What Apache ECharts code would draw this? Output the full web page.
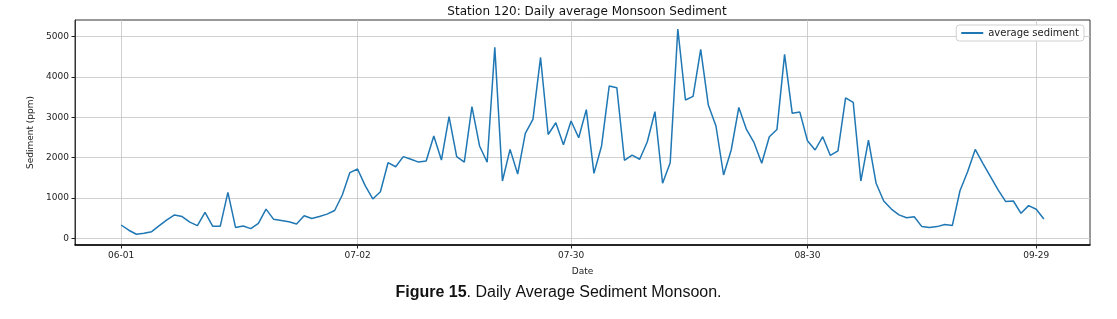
<!DOCTYPE html>
<html>
<head>
<meta charset="utf-8">
<script src="https://cdn.jsdelivr.net/npm/echarts@6/dist/echarts.min.js"></script>
<style>
  html, body { margin: 0; padding: 0; background: #fff; }
  #chart { width: 1117px; height: 319px; }
</style>
</head>
<body>
<div id="chart"></div>
<script>
// daily dates, 06-01 .. 09-30
const dates = [
  '06-01','06-02','06-03','06-04','06-05','06-06','06-07','06-08','06-09','06-10',
  '06-11','06-12','06-13','06-14','06-15','06-16','06-17','06-18','06-19','06-20',
  '06-21','06-22','06-23','06-24','06-25','06-26','06-27','06-28','06-29','06-30',
  '07-01','07-02','07-03','07-04','07-05','07-06','07-07','07-08','07-09','07-10',
  '07-11','07-12','07-13','07-14','07-15','07-16','07-17','07-18','07-19','07-20',
  '07-21','07-22','07-23','07-24','07-25','07-26','07-27','07-28','07-29','07-30',
  '07-31','08-01','08-02','08-03','08-04','08-05','08-06','08-07','08-08','08-09',
  '08-10','08-11','08-12','08-13','08-14','08-15','08-16','08-17','08-18','08-19',
  '08-20','08-21','08-22','08-23','08-24','08-25','08-26','08-27','08-28','08-29',
  '08-30','08-31','09-01','09-02','09-03','09-04','09-05','09-06','09-07','09-08',
  '09-09','09-10','09-11','09-12','09-13','09-14','09-15','09-16','09-17','09-18',
  '09-19','09-20','09-21','09-22','09-23','09-24','09-25','09-26','09-27','09-28',
  '09-29','09-30'
];

// average sediment (ppm), one value per day
const sediment = [
  330, 200, 100, 125, 165, 315, 455, 580, 540, 400,
  315, 645, 300, 300, 1140, 270, 305, 240, 370, 725,
  470, 440, 410, 355, 560, 490, 540, 600, 690, 1075,
  1630, 1720, 1305, 975, 1155, 1875, 1775, 2025, 1960, 1890,
  1915, 2535, 1940, 3015, 2025, 1890, 3265, 2290, 1885, 4735,
  1420, 2205, 1595, 2600, 2950, 4485, 2575, 2865, 2320, 2910,
  2495, 3190, 1610, 2290, 3775, 3735, 1935, 2065, 1960, 2395,
  3140, 1365, 1875, 5190, 3430, 3520, 4685, 3305, 2785, 1570,
  2190, 3245, 2700, 2370, 1860, 2520, 2700, 4560, 3100, 3130,
  2420, 2190, 2520, 2055, 2170, 3485, 3370, 1420, 2435, 1365,
  925, 725, 580, 510, 535, 290, 270, 290, 340, 320,
  1180, 1650, 2205, 1860, 1530, 1200, 910, 925, 620, 810,
  720, 480
];

const xTickLabels = ['06-01', '07-02', '07-30', '08-30', '09-29'];
const yTickLabels = [0, 1000, 2000, 3000, 4000, 5000];

const xTicks = xTickLabels.map(d => dates.indexOf(d));
const points = sediment.map((v, i) => [i, v]);

let myChart = echarts.init(document.getElementById('chart'));

let option = {
    animation: false,
    title: {
        text: 'Station 120: Daily average Monsoon Sediment',
        left: 582,
        top: 1,
        textAlign: 'center',
        textStyle: {
            fontFamily: 'DejaVu Sans',
            fontSize: 12,
            fontWeight: 'normal',
            color: '#111'
        }
    },
    legend: {
        right: 33,
        top: 25,
        padding: [3, 5, 3, 5],
        icon: 'rect',
        itemWidth: 22,
        itemHeight: 2,
        itemGap: 6,
        borderColor: '#d0d0d0',
        borderWidth: 1,
        borderRadius: 3,
        backgroundColor: '#fff',
        textStyle: {
            fontFamily: 'DejaVu Sans',
            fontSize: 10,
            color: '#222'
        },
        data: ['average sediment']
    },
    grid: {
        left: 75,
        right: 27,
        top: 20,
        bottom: 74,
        show: true,
        borderColor: '#333',
        borderWidth: 1
    },
    xAxis: {
        type: 'value',
        min: -6.05,
        max: 127.05,
        name: 'Date',
        nameLocation: 'middle',
        nameGap: 22,
        nameTextStyle: {
            fontFamily: 'DejaVu Sans',
            fontSize: 9,
            color: '#222'
        },
        axisLine: {
            onZero: false,
            lineStyle: { color: '#000', width: 1.5 }
        },
        axisTick: {
            customValues: xTicks,
            length: 3.5,
            lineStyle: { color: '#222' }
        },
        axisLabel: {
            customValues: xTicks,
            margin: 6,
            fontFamily: 'DejaVu Sans',
            fontSize: 9,
            color: '#222',
            formatter: v => dates[v]
        },
        splitLine: {
            show: true,
            lineStyle: { color: '#c4c4c4', width: 0.8 }
        }
    },
    yAxis: {
        type: 'value',
        min: -166,
        max: 5414,
        name: 'Sediment (ppm)',
        nameLocation: 'middle',
        nameGap: 38,
        nameTextStyle: {
            fontFamily: 'DejaVu Sans',
            fontSize: 9,
            color: '#222'
        },
        axisLine: {
            show: true,
            onZero: false,
            lineStyle: { color: '#333', width: 1 }
        },
        axisTick: {
            show: true,
            customValues: yTickLabels,
            length: 3.5,
            lineStyle: { color: '#222' }
        },
        axisLabel: {
            customValues: yTickLabels,
            margin: 6,
            fontFamily: 'DejaVu Sans',
            fontSize: 9,
            color: '#222',
            formatter: v => String(v)
        },
        splitLine: {
            show: true,
            lineStyle: { color: '#c4c4c4', width: 0.8 }
        }
    },
    series: [{
        name: 'average sediment',
        type: 'line',
        color: '#1f77b4',
        symbol: 'none',
        lineStyle: { width: 1.5 },
        data: points
    }],
    graphic: [{
        type: 'text',
        left: 'center',
        top: 285,
        style: {
            text: '{b|Figure 15}. Daily Average Sediment Monsoon.',
            fontFamily: 'Liberation Sans',
            fontSize: 16,
            fill: '#111',
            rich: {
                b: {
                    fontFamily: 'Liberation Sans',
                    fontSize: 16,
                    fontWeight: 'bold',
                    fill: '#111'
                }
            }
        }
    }]
};

myChart.setOption(option);
</script>
</body>
</html>
